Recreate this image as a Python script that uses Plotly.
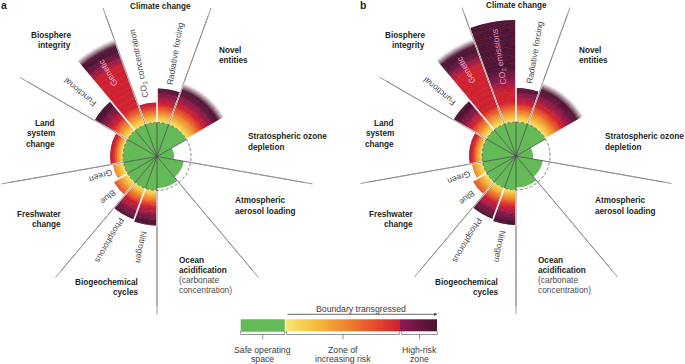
import numpy as np
import plotly.graph_objects as go

W, H = 685, 364

# ---------------- data ----------------
variables = ["CO2", "Radiative forcing", "Novel entities", "Stratospheric ozone depletion",
             "Atmospheric aerosol loading", "Ocean acidification", "Nitrogen", "Phosphorous",
             "Blue water", "Green water", "Land system change", "Functional integrity",
             "Genetic integrity"]
theta_start = [340, 0, 20, 60, 100, 140, 180, 200, 220, 240, 260, 300, 320]
theta_width = [20, 20, 40, 40, 40, 40, 20, 20, 20, 20, 40, 20, 20]
# control-variable status in units of the planetary boundary (1 = boundary)
status_a = [1.59, 2.00, 2.30, 0.50, 0.80, 0.93, 2.03, 1.97, 1.47, 1.32, 1.38, 2.12, 3.68]
status_b = [4.00, 2.00, 2.30, 0.50, 0.80, 0.93, 2.03, 1.97, 1.47, 1.32, 1.38, 2.12, 3.68]
# start of the high-risk zone for each control variable (boundary units)
high_risk_a = [1.50, 1.55, 1.60, 1.60, 1.60, 1.60, 1.50, 1.50, 1.60, 1.60, 1.30, 1.55, 2.85]
high_risk_b = [1.90, 1.55, 1.60, 1.60, 1.60, 1.60, 1.50, 1.50, 1.60, 1.60, 1.30, 1.55, 2.85]
risk_span_a = [0.45] * 13
risk_span_b = [0.70] + [0.45] * 12
# values beyond the plotted scale fade out
off_scale_a = [False, False, True, False, False, False, False, False, False, False, False, False, True]
off_scale_b = [False, False, True, False, False, False, False, False, False, False, False, False, True]
category_edges = [340, 20, 100, 140, 180, 220, 260, 300]
sub_edges = [0, 200, 240, 320]

# ---------------- styling ----------------
GREEN = "#63ba57"
ZONE = [(0.0, (249, 229, 110)), (0.25, (244, 190, 60)), (0.5, (240, 138, 48)),
        (0.75, (229, 82, 43)), (1.0, (206, 31, 46))]
HIGH = [(0.0, (206, 31, 46)), (0.35, (160, 26, 70)), (0.7, (110, 22, 64)), (1.0, (78, 18, 50))]
PX = 34.0          # pixels per boundary unit
R_PX = 150.0       # polar radius in pixels
DR = 0.02
FADE = 0.22
FONT = "Liberation Sans"
BOLD_SIZE = 8.2
centers = {"a": (157.0, 156.5), "b": (516.0, 156.0)}


def lerp(stops, t):
    t = min(max(t, 0.0), 1.0)
    for i in range(len(stops) - 1):
        t0, c0 = stops[i]
        t1, c1 = stops[i + 1]
        if t <= t1:
            f = (t - t0) / (t1 - t0)
            return tuple(c0[j] + (c1[j] - c0[j]) * f for j in range(3))
    return stops[-1][1]


def color_at(r, v, hr, hs, fade):
    zone_end = min(1.6, hr)
    c = lerp(ZONE, (r - 1) / (zone_end - 1))
    if r > hr:
        c = lerp(HIGH, (r - hr) / hs)
    if fade and r > v - FADE:
        w = min(1.0, (r - (v - FADE)) / FADE)
        c = tuple(c[j] + (255 - c[j]) * w for j in range(3))
    return "rgb(%d,%d,%d)" % tuple(int(round(x)) for x in c)


def wedge_trace(status, hr, hs, off, subplot):
    th, wd, bs, ln, cl = [], [], [], [], []
    for i in range(len(variables)):
        v = status[i]
        tc = theta_start[i] + theta_width[i] / 2
        th.append(tc); wd.append(theta_width[i]); bs.append(0); ln.append(min(v, 1.0)); cl.append(GREEN)
        if v > 1:
            n = int(np.ceil((v - 1) / DR))
            for k in range(n):
                b = 1 + k * DR
                l = min(DR * 1.7, v - b)
                if l <= 0:
                    continue
                th.append(tc); wd.append(theta_width[i]); bs.append(b); ln.append(l)
                cl.append(color_at(b + DR / 2, v, hr[i], hs[i], off[i]))
    return go.Barpolar(theta=th, width=wd, base=bs, r=ln, subplot=subplot,
                       marker=dict(color=cl, line=dict(width=0)), hoverinfo="skip",
                       showlegend=False)


def seg_trace(edges, r0, r1s, color, width, subplot, dash=None):
    rr, tt = [], []
    for e, r1 in zip(edges, r1s):
        rr += [r0, r1, None]
        tt += [e, e, None]
    return go.Scatterpolar(r=rr, theta=tt, mode="lines", subplot=subplot,
                           line=dict(color=color, width=width, dash=dash),
                           hoverinfo="skip", showlegend=False)


fig = go.Figure()
all_edges = theta_start
panels = [("a", "polar", status_a, high_risk_a, risk_span_a, off_scale_a),
          ("b", "polar2", status_b, high_risk_b, risk_span_b, off_scale_b)]

L_PX = 158.0
for key, sp, st, hr, hs, off in panels:
    cx, cy = centers[key]
    # long grey separators (cartesian, full length)
    xs, ys = [], []
    for e in category_edges:
        a = np.radians(e)
        xs += [cx + PX * np.sin(a), cx + L_PX * np.sin(a), None]
        ys += [cy - PX * np.cos(a), cy - L_PX * np.cos(a), None]
    fig.add_trace(go.Scatter(x=xs, y=ys, mode="lines", line=dict(color="#8f8f8f", width=0.9),
                             hoverinfo="skip", showlegend=False))

for key, sp, st, hr, hs, off in panels:
    fig.add_trace(wedge_trace(st, hr, hs, off, sp))
    # white gaps between wedges
    ext = []
    for e in all_edges:
        i = theta_start.index(e)
        j = (i - 1) % len(theta_start)
        ext.append(max(st[i], st[j]) + 0.05)
    fig.add_trace(seg_trace(all_edges, 1.0, ext, "white", 1.6, sp))
    fig.add_trace(seg_trace(category_edges, 1.0, [R_PX / PX] * 8, "#8f8f8f", 0.9, sp))
    fig.add_trace(seg_trace(all_edges, 0.0, [1.0] * 13, "#4a4a4a", 0.8, sp))
    tc = np.linspace(0, 360, 361)
    fig.add_trace(go.Scatterpolar(r=np.ones_like(tc), theta=tc, mode="lines", subplot=sp,
                                  line=dict(color="#555555", width=0.8, dash="3px,2px"),
                                  hoverinfo="skip", showlegend=False))


def polar_domain(cx, cy):
    return dict(x=[(cx - R_PX) / W, (cx + R_PX) / W], y=[(H - cy - R_PX) / H, (H - cy + R_PX) / H])


def polar_layout(cx, cy):
    return dict(domain=polar_domain(cx, cy), bgcolor="rgba(0,0,0,0)", barmode="overlay",
                radialaxis=dict(range=[0, R_PX / PX], visible=False, showgrid=False,
                                showline=False, showticklabels=False, ticks=""),
                angularaxis=dict(rotation=90, direction="clockwise", visible=False,
                                 showgrid=False, showline=False, showticklabels=False, ticks=""))


# ---------------- legend ----------------
LX0, LX_G, LX_H, LX1 = 240.7, 286.0, 400.5, 437.3
N = 160
zl = np.linspace(0, 1, N)
split = (LX_H - LX_G) / (LX1 - LX_G)
cs = []
for t, c in ZONE:
    cs.append([t * split, "rgb(%d,%d,%d)" % c])
hi = [(0.0, (140, 28, 82)), (0.5, (104, 22, 64)), (1.0, (76, 18, 50))]
for t, c in hi:
    cs.append([split + 0.0001 + t * (1 - split - 0.0001), "rgb(%d,%d,%d)" % c])
cs[-1][0] = 1.0
fig.add_trace(go.Heatmap(z=[zl], x0=LX_G + (LX1 - LX_G) / N / 2, dx=(LX1 - LX_G) / N,
                         y0=325.5, dy=12.4, colorscale=cs, zmin=0, zmax=1, showscale=False,
                         hoverinfo="skip"))
shapes = [dict(type="rect", x0=LX0, x1=LX_G - 1.2, y0=319.3, y1=331.7, xref="x", yref="y",
               fillcolor=GREEN, line=dict(width=0), layer="above")]
brackets = [(LX0, LX_G - 1.2), (LX_G + 0.7, LX_H - 1.2), (LX_H + 1.2, LX1)]
bx, by = [], []
for x0, x1 in brackets:
    m = (x0 + x1) / 2
    bx += [x0, x0, x1, x1, None, m, m, None]
    by += [331.0, 334.5, 334.5, 331.0, None, 334.5, 339.5, None]
fig.add_trace(go.Scatter(x=bx, y=by, mode="lines", line=dict(color="#777777", width=0.8),
                         hoverinfo="skip", showlegend=False))

ann = []


def txt(x, y, s, size=8.7, color="#231f20", xanchor="center", bold=False, angle=0):
    if bold:
        s = "<b>%s</b>" % s
    ann.append(dict(x=x, y=y, xref="x", yref="y", text=s, showarrow=False, xanchor=xanchor,
                    yanchor="middle", textangle=angle,
                    font=dict(family=FONT, size=size, color=color)))


ann.append(dict(x=LX1, y=314.3, ax=LX_G, ay=314.3, xref="x", yref="y", axref="x", ayref="y",
                text="", showarrow=True, arrowhead=2, arrowsize=0.8, arrowwidth=0.8,
                arrowcolor="#444444"))
txt(361.3, 308.5, "Boundary transgressed", color="#3a3a3a")
for cxl, l1, l2 in [(262.7, "Safe operating", "space"), (343.0, "Zone of", "increasing risk"),
                    (419.3, "High-risk", "zone")]:
    txt(cxl, 350.3, l1, color="#3a3a3a")
    txt(cxl, 359.3, l2, color="#3a3a3a")

# ---------------- category labels ----------------
cat_labels = {
    "a": [(["Climate change"], 160, [6], "center"),
          (["Biosphere", "integrity"], 73, [35, 45], "right"),
          (["Novel", "entities"], 217, [50, 60], "left"),
          (["Stratospheric ozone", "depletion"], 246, [136, 147], "left"),
          (["Atmospheric", "aerosol loading"], 233, [200, 211], "left"),
          (["Biogeochemical", "cycles"], 140, [282, 292], "right"),
          (["Freshwater", "change"], 63, [214, 224], "right"),
          (["Land", "system", "change"], 57, [123, 133.5, 144], "right")],
    "b": [(["Climate change"], 516, [5], "center"),
          (["Biosphere", "integrity"], 427, [35, 45], "right"),
          (["Novel", "entities"], 577, [50, 60], "left"),
          (["Stratospheric ozone", "depletion"], 603, [136, 147], "left"),
          (["Atmospheric", "aerosol loading"], 593, [200, 211], "left"),
          (["Biogeochemical", "cycles"], 500, [282, 292], "right"),
          (["Freshwater", "change"], 415, [214, 224], "right"),
          (["Land", "system", "change"], 396, [123, 133.5, 144], "right")],
}
ocean_x = {"a": 177, "b": 536}
for key in ["a", "b"]:
    for lines, x, ys, anc in cat_labels[key]:
        for s, y in zip(lines, ys):
            txt(x, y, s, size=BOLD_SIZE, xanchor=anc, bold=True)
    for s, y, b in [("Ocean", 260, True), ("acidification", 270, True),
                    ("(carbonate", 280, False), ("concentration)", 290, False)]:
        txt(ocean_x[key], y, s, size=BOLD_SIZE if b else 8.4, xanchor="left", bold=b,
            color="#231f20" if b else "#4a4a4a")

txt(4, 5, "a", size=10.5, xanchor="center", bold=True)
txt(363, 5, "b", size=10.5, xanchor="center", bold=True)

# ---------------- sub labels (radial) ----------------
sub_labels = {
    "a": [("CO<sub>2</sub> concentration", 95, 349, "#4a4a4a"), ("Radiative forcing", 105, 10, "#4a4a4a"),
          ("Genetic", 97, 329.5, "#f6b3d0"), ("Functional", 100, 310, "#4a4a4a"),
          ("Green", 60, 251, "#4a4a4a"), ("Blue", 64, 230, "#4a4a4a"),
          ("Phosphorous", 96, 209.5, "#4a4a4a"), ("Nitrogen", 92, 190, "#4a4a4a")],
    "b": [("CO<sub>2</sub> emissions", 101, 350.5, "#e58fbd"), ("Radiative forcing", 106, 10, "#4a4a4a"),
          ("Genetic", 99, 330, "#f6b3d0"), ("Functional", 100, 310, "#4a4a4a"),
          ("Green", 61, 249.5, "#4a4a4a"), ("Blue", 64.5, 230, "#4a4a4a"),
          ("Phosphorous", 97, 210, "#4a4a4a"), ("Nitrogen", 92, 190.5, "#4a4a4a")],
}
for key in ["a", "b"]:
    cx, cy = centers[key]
    for s, rp, ph, col in sub_labels[key]:
        a = np.radians(ph)
        ta = ((ph - 90 + 180) % 360) - 180
        txt(cx + rp * np.sin(a), cy - rp * np.cos(a), s, size=8.5, color=col, angle=ta)

fig.update_layout(
    width=W, height=H, margin=dict(l=0, r=0, t=0, b=0),
    paper_bgcolor="white", plot_bgcolor="rgba(0,0,0,0)",
    xaxis=dict(range=[0, W], visible=False, fixedrange=True, domain=[0, 1]),
    yaxis=dict(range=[H, 0], visible=False, fixedrange=True, domain=[0, 1]),
    polar=polar_layout(*centers["a"]),
    polar2=polar_layout(*centers["b"]),
    annotations=ann, shapes=shapes, showlegend=False,
)
fig.write_html("out.html", config={"displayModeBar": False},
               post_script="document.body.style.margin='0';document.body.style.overflow='hidden';")
